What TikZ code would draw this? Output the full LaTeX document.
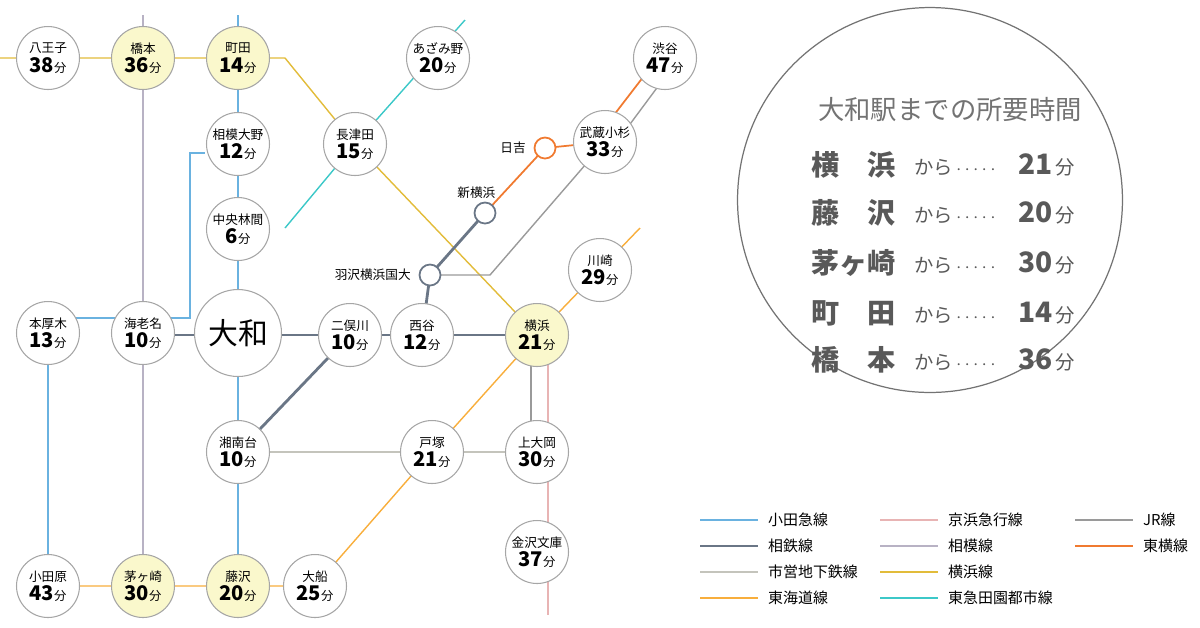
\documentclass[tikz,border=0pt]{standalone}
\usepackage{fontspec}
\setmainfont{Noto Sans CJK JP}
\usetikzlibrary{positioning}
\definecolor{odakyuc}{HTML}{6AB2E0}
\definecolor{sotetsuc}{HTML}{6A7686}
\definecolor{sagamic}{HTML}{B8B2C4}
\definecolor{yokoc}{HTML}{E2BC3A}
\definecolor{denenc}{HTML}{3CC8C8}
\definecolor{toyokoc}{HTML}{F07A30}
\definecolor{jrc}{HTML}{9A9A9A}
\definecolor{keikyuc}{HTML}{E8B4B4}
\definecolor{subwayc}{HTML}{C4C4BC}
\definecolor{tokaidoc}{HTML}{F8AE3C}
\definecolor{hitc}{HTML}{FAF8CC}
\newcommand{\stnlbl}[2]{{\fontsize{7.2}{8}\selectfont #1}\\[-1pt]{\fontsize{11.5}{12}\selectfont\bfseries #2}{\fontsize{7}{8}\selectfont 分}}
\begin{document}
\begin{tikzpicture}[x=0.02cm,y=-0.02cm]
    \tikzset{
    stn/.style={circle,minimum size=1.26cm,inner sep=0pt,fill=white,draw=black!35,line width=0.6pt,align=center},
    hit/.style={stn,fill=hitc},
    tiny/.style={circle,minimum size=0.42cm,inner sep=0pt,fill=white,draw=#1,line width=1pt},
    odakyu/.style={draw=odakyuc,line width=1.4pt},
    sotetsu/.style={draw=sotetsuc,line width=1.6pt},
    sagami/.style={draw=sagamic,line width=0.8pt},
    yokoline/.style={draw=yokoc,line width=0.8pt},
    denen/.style={draw=denenc,line width=0.8pt},
    toyoko/.style={draw=toyokoc,line width=1pt},
    jr/.style={draw=jrc,line width=0.8pt},
    keikyu/.style={draw=keikyuc,line width=1pt},
    subway/.style={draw=subwayc,line width=1pt},
    tokaido/.style={draw=tokaidoc,line width=0.8pt},
    }
    \useasboundingbox (0,0) rectangle (1200,627);
    % free line ends
    \coordinate (w1) at (0,58);
    \coordinate (yk) at (285,58);
    \coordinate (dn) at (285,228);
    \coordinate (dtop) at (465,20);
    \coordinate (otop) at (238,15);
    \coordinate (stop) at (143,15);
    \coordinate (ob1) at (190,318);
    \coordinate (ob2) at (190,153);
    \coordinate (jr1) at (490,275);
    \coordinate (ktop) at (640,228);
    \coordinate (kbot) at (548,615);

    % lines
    \draw[sagami] (stop) -- (143,586);
    \draw[odakyu] (otop) -- (238,586);
    \draw[odakyu] (48,318) -- (ob1) -- (ob2) -- (205,153);
    \draw[odakyu] (48,330) -- (48,586);
    \draw[yokoline] (w1) -- (yk) -- (355,144) -- (537,335);
    \draw[denen] (dn) -- (355,144) -- (dtop);
    \draw[sotetsu] (143,335) -- (422,335) -- (537,335);
    \draw[sotetsu] (350,335) -- (238,452);
    \draw[sotetsu] (422,335) -- (430,275) -- (485,213);
    \draw[toyoko] (485,213) -- (545,148) -- (605,142);
    \draw[toyoko] (605,142) ++(-8,-5) -- ++(50,-65);
    \draw[jr] (430,275) -- (jr1) -- (605,142);
    \draw[jr] (605,142) ++(8,5) -- ++(52,-70);
    \draw[jr] (531,335) -- (531,452);
    \draw[keikyu] (548,335) -- (kbot);
    \draw[subway] (238,452) -- (537,452);
    \draw[tokaido] (48,586) -- (315,586) -- (432,452) -- (537,335) -- (ktop);

    % stations
    \node[stn] (hachioji) at (48,58) {\stnlbl{八王子}{38}};
    \node[hit] (hashimoto) at (143,58) {\stnlbl{橋本}{36}};
    \node[hit] (machida) at (238,58) {\stnlbl{町田}{14}};
    \node[stn] (azamino) at (438,58) {\stnlbl{あざみ野}{20}};
    \node[stn] (shibuya) at (665,58) {\stnlbl{渋谷}{47}};
    \node[stn] (sagamiono) at (238,144) {\stnlbl{相模大野}{12}};
    \node[stn] (nagatsuta) at (355,144) {\stnlbl{長津田}{15}};
    \node[stn] (musashikosugi) at (605,142) {\stnlbl{武蔵小杉}{33}};
    \node[stn] (chuorinkan) at (238,229) {\stnlbl{中央林間}{6}};
    \node[stn] (kawasaki) at (600,270) {\stnlbl{川崎}{29}};
    \node[stn] (honatsugi) at (48,333) {\stnlbl{本厚木}{13}};
    \node[stn] (ebina) at (143,333) {\stnlbl{海老名}{10}};
    \node[stn,minimum size=1.74cm] (yamato) at (238,333) {\fontsize{17}{18}\selectfont 大和};
    \node[stn] (futamatagawa) at (350,335) {\stnlbl{二俣川}{10}};
    \node[stn] (nishiya) at (422,335) {\stnlbl{西谷}{12}};
    \node[hit] (yokohama) at (537,335) {\stnlbl{横浜}{21}};
    \node[stn] (shonandai) at (238,452) {\stnlbl{湘南台}{10}};
    \node[stn] (totsuka) at (432,452) {\stnlbl{戸塚}{21}};
    \node[stn] (kamiooka) at (537,452) {\stnlbl{上大岡}{30}};
    \node[stn] (kanazawabunko) at (537,552) {\stnlbl{金沢文庫}{37}};
    \node[stn] (odawara) at (48,586) {\stnlbl{小田原}{43}};
    \node[hit] (chigasaki) at (143,586) {\stnlbl{茅ヶ崎}{30}};
    \node[hit] (fujisawa) at (238,586) {\stnlbl{藤沢}{20}};
    \node[stn] (ofuna) at (315,586) {\stnlbl{大船}{25}};
    \node[tiny=toyokoc] (hiyoshi) at (545,148) {};
    \node[tiny=sotetsuc] (shinyokohama) at (485,213) {};
    \node[tiny=sotetsuc] (hazawa) at (430,275) {};
    \node[left=1pt of hiyoshi,font=\fontsize{7.2}{8}\selectfont] {日吉};
    \node[above left=0pt and -14pt of shinyokohama,font=\fontsize{7.2}{8}\selectfont] {新横浜};
    \node[left=1pt of hazawa,font=\fontsize{7.2}{8}\selectfont] {羽沢横浜国大};

    % travel time panel
    \node[circle,draw=black!55,line width=0.7pt,minimum size=7.7cm] (panel) at (930,200) {};
    \node[text=black!55,font=\fontsize{15}{16}\selectfont] (title) at (950,110) {大和駅までの所要時間};
    \foreach \nm/\yy/\mn in {横\hspace{1em}浜/165/21,藤\hspace{1em}沢/213/20,茅ヶ崎/263/30,町\hspace{1em}田/313/14,橋\hspace{1em}本/360/36}{
      \node[anchor=west,text=black!65,font=\fontsize{16}{18}\selectfont\bfseries] at (805,\yy) {\nm};
      \node[anchor=west,text=black!65,font=\fontsize{11}{12}\selectfont] at (908,\yy+2) {から\,$\cdot$\,$\cdot$\,$\cdot$\,$\cdot$\,$\cdot$};
      \node[anchor=west,text=black!65] at (1012,\yy) {{\fontsize{16}{18}\selectfont\bfseries \mn}\,{\fontsize{11}{12}\selectfont 分}};
    }

    % legend
    \foreach \st/\tx/\xx/\yy in {odakyu/小田急線/700/520,sotetsu/相鉄線/700/546,subway/市営地下鉄線/700/572,tokaido/東海道線/700/598,
      keikyu/京浜急行線/880/520,sagami/相模線/880/546,yokoline/横浜線/880/572,denen/東急田園都市線/880/598,
      jr/JR線/1075/520,toyoko/東横線/1075/546}{
      \draw[\st] (\xx,\yy) -- ++(58,0);
      \node[anchor=west,font=\fontsize{8.5}{10}\selectfont] at (\xx+62,\yy) {\tx};
    }
\end{tikzpicture}
\end{document}
